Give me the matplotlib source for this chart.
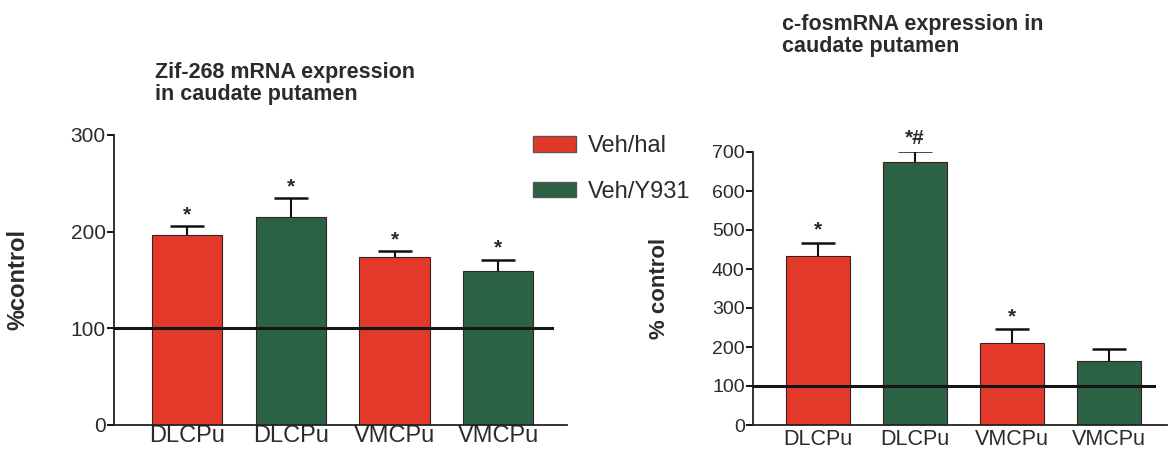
import matplotlib
matplotlib.use("Agg")
import matplotlib.pyplot as plt
from matplotlib.patches import Patch
import numpy as np

plt.rcParams['font.family'] = ['Liberation Sans', 'DejaVu Sans']

# data
regions = ["DLCPu", "DLCPu", "VMCPu", "VMCPu"]
groups = ["Veh/hal", "Veh/Y931", "Veh/hal", "Veh/Y931"]

zif_mean = [197, 215, 174, 159]
zif_sem = [9, 20, 6, 12]
zif_marks = ["*", "*", "*", "*"]

fos_mean = [433, 674, 210, 165]
fos_sem = [34, 28, 35, 30]
fos_marks = ["*", "*#", "*", ""]

red = "#e2392b"
green = "#2b6244"
colors = [red if g == "Veh/hal" else green for g in groups]
txt = "#2b2b2b"

fig = plt.figure(figsize=(11.75, 4.49), dpi=100)

ax1 = fig.add_axes([114/1175, 24/449, 453/1175, 290/449])
ax2 = fig.add_axes([753/1175, 24/449, 414/1175, 273/449])

x = np.arange(len(regions))


def draw(ax, mean, sem, marks, width, ymax, xlim, line_end, star_off, lab_pad, lab_size, tick_size):
    ax.bar(x, mean, width=width, color=colors, edgecolor="#3a2020", linewidth=0.8, zorder=2)
    # upper half of the error bar only
    _, caps, _ = ax.errorbar(x, mean, yerr=[np.zeros(len(sem)), sem], fmt="none", ecolor="#111111",
                             elinewidth=1.5, capsize=12.5, capthick=1.8, zorder=3)
    for c in caps:
        if np.allclose(c.get_ydata(), mean):
            c.set_visible(False)
    for xi, m, s, t in zip(x, mean, sem, marks):
        if t:
            ax.text(xi, m + s + star_off, t, ha="center", va="bottom", fontsize=15,
                    fontweight="bold", color=txt)
    ax.plot([xlim[0], line_end], [100, 100], color="#151515", lw=2.2, zorder=4, clip_on=False)
    ax.set_xlim(*xlim)
    ax.set_ylim(0, ymax)
    ax.set_yticks(np.arange(0, ymax + 1, 100))
    ax.set_xticks(x)
    ax.set_xticklabels(regions, fontsize=lab_size, color=txt)
    ax.tick_params(axis="x", length=0, pad=lab_pad)
    ax.tick_params(axis="y", length=5, width=1.3, labelsize=tick_size, labelcolor=txt, pad=1)
    for s in ["top", "right"]:
        ax.spines[s].set_visible(False)
    for s in ["left", "bottom"]:
        ax.spines[s].set_linewidth(1.3)
        ax.spines[s].set_color("#222222")


draw(ax1, zif_mean, zif_sem, zif_marks, 0.675, 300, (-0.70, 3.66), 3.52, 2, 0, 17, 15)
draw(ax2, fos_mean, fos_sem, fos_marks, 0.66, 700, (-0.665, 3.6), 3.47, 8, 3, 15.5, 14)

ax1.set_ylabel("%control", fontsize=17, fontweight="bold", color=txt, labelpad=30)
ax2.set_ylabel("% control", fontsize=16, fontweight="bold", color=txt, labelpad=30)

fig.text(155/1175, 1 - 62/449, "Zif-268 mRNA expression\nin caudate putamen", fontsize=15.5,
         fontweight="bold", color=txt, va="top", ha="left", linespacing=1.05)
fig.text(782/1175, 1 - 14/449, "c-fosmRNA expression in\ncaudate putamen", fontsize=15.5,
         fontweight="bold", color=txt, va="top", ha="left", linespacing=1.05)

handles = [Patch(facecolor=red, edgecolor="#555555"), Patch(facecolor=green, edgecolor="#555555")]
fig.legend(handles, ["Veh/hal", "Veh/Y931"], loc="upper left", bbox_to_anchor=(512/1175, 1 - 114/449),
           frameon=False, fontsize=17, handlelength=1.8, handleheight=0.65, handletextpad=0.5,
           labelspacing=1.0, labelcolor=txt)

fig.savefig("out.png", dpi=100, facecolor="white")
